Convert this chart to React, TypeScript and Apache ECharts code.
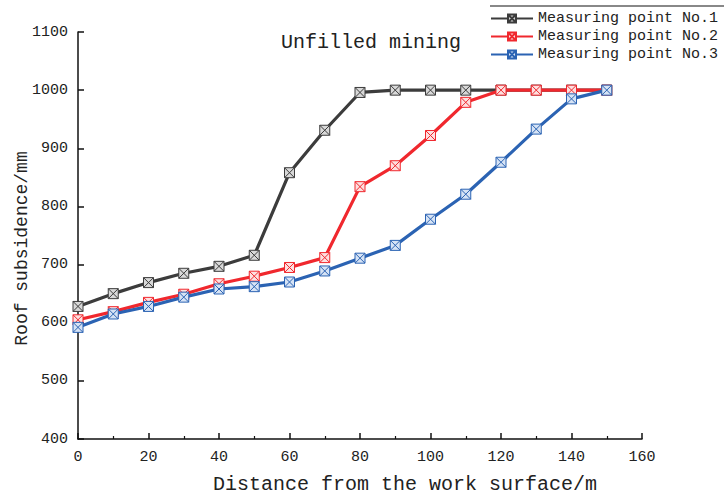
import React, { useEffect, useRef } from "react";
import * as echarts from "echarts";

// Distance from the work surface (m)
const distances = [0, 10, 20, 30, 40, 50, 60, 70, 80, 90, 100, 110, 120, 130, 140, 150];

// Roof subsidence (mm) at each measuring point
const point1 = [628, 650, 669, 685, 697, 716, 858, 931, 996, 1000, 1000, 1000, 1000, 1000, 1000, 1000];
const point2 = [605, 619, 635, 649, 667, 680, 695, 712, 834, 870, 922, 979, 1000, 1000, 1000, 1000];
const point3 = [592, 615, 628, 644, 658, 662, 670, 689, 711, 733, 778, 821, 876, 933, 985, 1000];

const seriesNames = ["Measuring point No.1", "Measuring point No.2", "Measuring point No.3"];
const seriesColors = ["#3c3c3c", "#f0282e", "#2b63b3"];
const markerFills = ["#d8d8d8", "#fde0e0", "#d6e3f5"];

const FONT = "Liberation Mono";

// square with a cross inside
const boxCross = "path://M0,0H10V10H0Z M0,0L10,10 M10,0L0,10";

export default function App() {
  const ref = useRef<HTMLDivElement>(null);

  useEffect(() => {
    if (!ref.current) return;
    const chart = echarts.init(ref.current, undefined, { renderer: "svg" });
    const all = [point1, point2, point3];
    chart.setOption({
      animation: false,
      backgroundColor: "#ffffff",
      grid: { left: 78, right: 82, top: 32, bottom: 61, outerBoundsMode: "none", containLabel: false },
      title: {
        text: "Unfilled mining",
        left: 281,
        top: 32,
        padding: 0,
        textStyle: { fontFamily: FONT, fontSize: 20, fontWeight: "normal", color: "#222" },
      },
      legend: {
        orient: "vertical",
        left: 490,
        top: 11,
        padding: 0,
        itemWidth: 42,
        itemHeight: 10,
        itemGap: 3,
        textStyle: { fontFamily: FONT, fontSize: 15, color: "#222" },
        data: seriesNames,
      },
      graphic: [
        {
          type: "line",
          shape: { x1: 490, y1: 6, x2: 724, y2: 6 },
          style: { stroke: "#888", lineWidth: 2 },
        },
      ],
      xAxis: {
        type: "value",
        min: 0,
        max: 160,
        interval: 20,
        name: "Distance from the work surface/m",
        nameLocation: "middle",
        nameGap: 35,
        nameMoveOverlap: false,
        nameTextStyle: { fontFamily: FONT, fontSize: 20, color: "#222", padding: [0, 0, 0, 90] },
        axisLine: { show: true, lineStyle: { color: "#111", width: 1.5 } },
        axisTick: { show: true, inside: true, length: 6, lineStyle: { color: "#111", width: 1.5 } },
        minorTick: { show: true, splitNumber: 2, length: 3, lineStyle: { color: "#111", width: 1.2 } },
        axisLabel: { fontFamily: FONT, fontSize: 15, color: "#222", margin: 11 },
        splitLine: { show: false },
      },
      yAxis: {
        type: "value",
        min: 400,
        max: 1100,
        interval: 100,
        name: "Roof subsidence/mm",
        nameLocation: "middle",
        nameGap: 47,
        nameMoveOverlap: false,
        nameTextStyle: { fontFamily: FONT, fontSize: 18, color: "#222", padding: [0, 26, 0, 0] },
        axisLine: { show: true, lineStyle: { color: "#111", width: 1.5 } },
        axisTick: { show: true, inside: true, length: 6, lineStyle: { color: "#111", width: 1.5 } },
        axisLabel: {
          fontFamily: FONT,
          fontSize: 15,
          color: "#222",
          margin: 10,
          formatter: (v: number) => String(v),
        },
        splitLine: { show: false },
      },
      series: all.map((vals, i) => ({
        name: seriesNames[i],
        type: "line",
        data: distances.map((d, j) => [d, vals[j]]),
        symbol: boxCross,
        symbolSize: 10,
        showAllSymbol: true,
        z: 2 + i,
        lineStyle: { color: seriesColors[i], width: 3.2 },
        itemStyle: { color: markerFills[i], borderColor: seriesColors[i], borderWidth: 1 },
      })),
    });
    return () => chart.dispose();
  }, []);

  return (
    <div
      ref={ref}
      style={{ position: "absolute", left: 0, top: 0, width: 724, height: 500 }}
    />
  );
}
